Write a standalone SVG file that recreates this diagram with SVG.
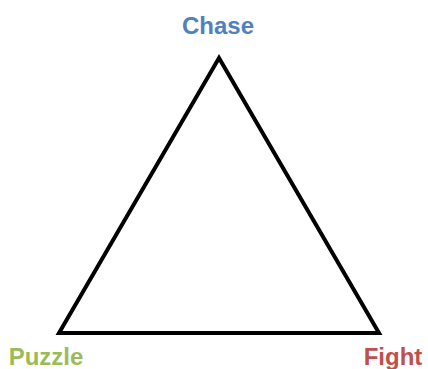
<svg xmlns="http://www.w3.org/2000/svg" width="428" height="369" viewBox="0 0 428 369">
<style>
.lbl{font-family:"Liberation Sans",Arial,sans-serif;font-weight:bold;font-size:24px;text-anchor:middle}
.tri{fill:none;stroke:#000;stroke-width:4;stroke-linejoin:miter}
</style>
<rect width="428" height="369" fill="#fff"/>
<g id="triangle"><polygon class="tri" points="219,58 59,333 379,333"/></g>
<g id="chase"><text class="lbl" x="218" y="34" fill="#4F81BD">Chase</text></g>
<g id="puzzle"><text class="lbl" x="46" y="365" fill="#9BBB59">Puzzle</text></g>
<g id="fight"><text class="lbl" x="393" y="365" fill="#C0504D">Fight</text></g>
</svg>
